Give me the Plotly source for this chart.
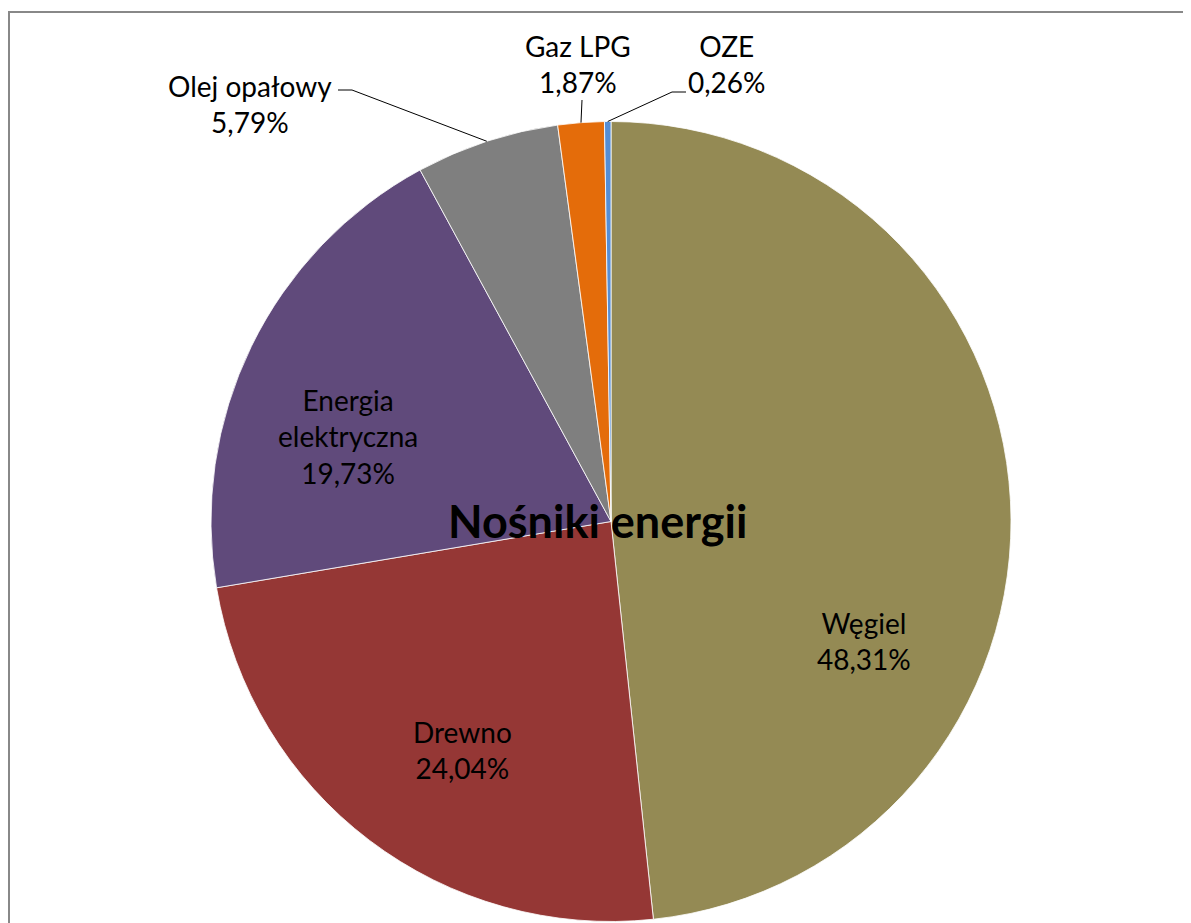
import math
import plotly.graph_objects as go

# data
categories = ["Węgiel", "Drewno", "Energia elektryczna", "Olej opałowy", "Gaz LPG", "OZE"]
shares = [48.31, 24.04, 19.73, 5.79, 1.87, 0.26]
colors = ["#948A54", "#953735", "#604A7B", "#7F7F7F", "#E46C0A", "#558ED5"]
title_text = "Nośniki energii"

OFF = 8  # page body margin
W, H = 1191 - 2 * OFF, 923 - OFF
CX, CY, R = 611, 521.5, 400  # pie centre / radius in screen px


def px(x):
    return (x - OFF) / W


def py(y):
    return 1 - (y - OFF) / H


def fmt(v):
    return f"{v:.2f}".replace(".", ",") + "%"


def edge_point(i):
    # point on the rim at the middle of slice i (clockwise from 12 o'clock)
    before = sum(shares[:i])
    mid = (before + shares[i] / 2) / sum(shares) * 2 * math.pi
    return CX + R * math.sin(mid), CY - R * math.cos(mid)


fig = go.Figure(go.Pie(
    labels=categories,
    values=shares,
    sort=False,
    direction="clockwise",
    rotation=0,
    marker=dict(colors=colors, line=dict(color="white", width=0.8)),
    textinfo="none",
    hoverinfo="label+percent",
    domain=dict(x=[px(CX - R), px(CX + R)], y=[max(0, py(CY + R)), py(CY - R)]),
    showlegend=False,
))

# label placement (px), one per slice
label_pos = {
    "Węgiel": (864, 641),
    "Drewno": (462, 750),
    "Energia elektryczna": (348, 437),
    "Olej opałowy": (250, 104),
    "Gaz LPG": (578, 64),
    "OZE": (727, 64),
}
font = dict(family="Lato, Noto Sans, sans-serif", size=28, color="black")
for name, v in zip(categories, shares):
    x, y = label_pos[name]
    shown = name.replace(" ", "<br>") if name == "Energia elektryczna" else name
    fig.add_annotation(x=px(x), y=py(y), xref="paper", yref="paper",
                       text=f"{shown}<br>{fmt(v)}", showarrow=False,
                       font=font, align="center", xanchor="center", yanchor="middle")

# leader lines for the small slices
leaders = {
    "Olej opałowy": [(338, 90), (352, 90)],
    "Gaz LPG": [(582, 100)],
    "OZE": [(686, 92), (672, 92)],
}
for name, pts in leaders.items():
    ex, ey = edge_point(categories.index(name))
    path_pts = pts + [(ex, ey)]
    d = "M " + " L ".join(f"{px(a)},{py(b)}" for a, b in path_pts)
    fig.add_shape(type="path", path=d, xref="paper", yref="paper",
                  line=dict(color="black", width=1))

fig.add_annotation(x=px(597), y=py(521), xref="paper", yref="paper",
                   text=f"<b>{title_text}</b>", showarrow=False,
                   font=dict(family="Lato, Noto Sans, sans-serif", size=45, color="black"),
                   xanchor="center", yanchor="middle")

# chart frame (only top and left edges are visible)
frame = f"M {px(9)},{py(960)} L {px(9)},{py(12)} L {px(1250)},{py(12)}"
fig.add_shape(type="path", path=frame, xref="paper", yref="paper",
              line=dict(color="#888888", width=2), layer="below")

fig.update_layout(
    width=W, height=H,
    margin=dict(l=0, r=0, t=0, b=0),
    paper_bgcolor="white",
    plot_bgcolor="white",
)

fig.write_html("out.html")
